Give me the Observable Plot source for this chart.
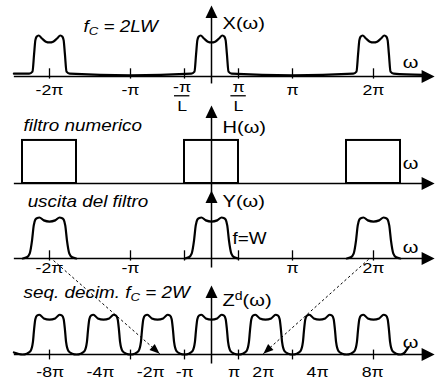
<!DOCTYPE html>
<html><head><meta charset="utf-8">
<script src="https://cdn.jsdelivr.net/npm/d3@7"></script>
<script src="https://cdn.jsdelivr.net/npm/@observablehq/plot@0.6"></script>
<style>
html,body{margin:0;padding:0;background:#fff;}
#chart{width:437px;height:379px;overflow:hidden;}
</style></head><body><div id="chart"></div>
<script>
// ---------------- data (ω in units of π, amplitude relative to lobe peak) ----------------
const L = 3;
const panels = ["X", "H", "Y", "Z"];

// X(ω): band-limited spectrum repeated every 2π
const xLobeCenters = [-2, 0, 2];
const xLobeDu  = [-0.25, -0.21, -0.19, -0.175, -0.16, -0.135, -0.09, -0.045, 0, 0.045, 0.09, 0.135, 0.16, 0.175, 0.19, 0.21, 0.25];
const xLobeAmp = [0.07, 0.12, 0.55, 0.88, 0.97, 1.0, 0.92, 0.85, 0.83, 0.85, 0.92, 1.0, 0.97, 0.88, 0.55, 0.12, 0.07];
const xFloorU   = [-2.44, -1, 1, 2.62];
const xFloorAmp = [0.07, 0.03, 0.03, 0.04];

// H(ω): ideal low-pass, cutoff π/L, repeated every 2π
const hCenters = [-2, 0, 2];
const hHalfWidth = 1 / L;
const hAmp = 1.05;

// Y(ω): filtered spectrum (smoother edges)
const yLobeCenters = [-2, 0, 2];
const yLobeDu  = [-0.33, -0.28, -0.245, -0.215, -0.195, -0.175, -0.15, -0.125, -0.07, 0, 0.07, 0.125, 0.15, 0.175, 0.195, 0.215, 0.245, 0.28, 0.33];
const yLobeAmp = [0.0, 0.03, 0.12, 0.45, 0.8, 0.95, 0.99, 1.0, 0.93, 0.9, 0.93, 1.0, 0.99, 0.95, 0.8, 0.45, 0.12, 0.03, 0.0];

// Z^d(ω): decimated sequence spectrum, lobes every 2π/L on the drawing
const zLobeCenters = [-2, -4/3, -2/3, 0, 2/3, 4/3, 2];
const zLobeDu  = [-0.333, -0.28, -0.235, -0.205, -0.19, -0.175, -0.155, -0.125, -0.07, 0, 0.07, 0.125, 0.155, 0.175, 0.19, 0.205, 0.235, 0.28];
const zLobeAmp = [0.0, 0.02, 0.08, 0.3, 0.62, 0.86, 0.95, 0.97, 0.88, 0.85, 0.88, 0.97, 0.95, 0.86, 0.62, 0.3, 0.08, 0.02];
const zStart = {u: -2.44, amp: 0.05};
const zEnd = [{u: 2.333, amp: 0.0}, {u: 2.38, amp: 0.04}, {u: 2.43, amp: 0.18}];

// ticks and tick labels
const tickVals = [-2, -1, -1 / L, 1 / L, 1, 2];
const xTickLabels = ["-2π", "-π", "", "", "π", "2π"];
const yTickLabels = ["-2π", "-π", "", "", "π", "2π"];
const fracNum = ["-π", "π"];
const fracDen = ["L", "L"];
const fracPos = [-1 / L, 1 / L];
const zLabelPos = [-1.99, -1.37, -0.75, -0.33, 0.28, 0.64, 1.31, 1.99];
const zLabels = ["-8π", "-4π", "-2π", "-π", "π", "2π", "4π", "8π"];

// texts
const titles = ["f_{C} = 2LW", "filtro numerico", "uscita del filtro", "seq. decim. f_{C} = 2W"];
const funcLabels = ["X(ω)", "H(ω)", "Y(ω)", "Z^{d}(ω)"];
const cutoffLabel = "f=W";

// ---------------- layout ----------------
const W = 437, HT = 379;
const PX_PI = 81, ORIGIN = 211, PX_AMP = 41;
const base = {X: 76, H: 183, Y: 258, Z: 354};
const off = p => (HT - base[p]) / PX_AMP;
const P = (p, u, a) => ({x: u, y: off(p) + a});
const TEXT_STRETCH = 1.18;

const titlePos = {X: [-1.58, 1.22], H: [-2.32, 1.41], Y: [-2.27, 1.37], Z: [-2.32, 1.51]};
const funcPos = {X: [0.136, 1.29], H: [0.136, 1.37], Y: [0.136, 1.39], Z: [0.136, 1.32]};
const omegaPos = {X: 0.34, H: 0.49, Y: 0.27, Z: 0.29};
const vAxis = {X: [-0.17, 1.73], H: [-0.22, 1.9], Y: [-0.22, 1.66], Z: [-0.22, 1.68]};

// ---------------- build rows ----------------
function lobeRows(p, centers, du, amp, g) {
  const r = [];
  centers.forEach((c, i) => du.forEach((d, j) => r.push({...P(p, c + d, amp[j]), g: g + i})));
  return r;
}
const xCurve = [];
{
  const pts = [];
  xFloorU.forEach((u, i) => pts.push([u, xFloorAmp[i]]));
  xLobeCenters.forEach(c => xLobeDu.forEach((d, j) => pts.push([c + d, xLobeAmp[j]])));
  pts.sort((a, b) => a[0] - b[0]);
  pts.forEach(([u, a]) => xCurve.push({...P("X", u, a), g: "X"}));
}
const yCurve = lobeRows("Y", yLobeCenters, yLobeDu, yLobeAmp, "Y");
const zCurve = [];
{
  const pts = [[zStart.u, zStart.amp]];
  zLobeCenters.forEach(c => zLobeDu.forEach((d, j) => pts.push([c + d, zLobeAmp[j]])));
  zEnd.forEach(e => pts.push([e.u, e.amp]));
  pts.sort((a, b) => a[0] - b[0]);
  pts.forEach(([u, a]) => zCurve.push({...P("Z", u, a), g: "Z"}));
}
const curves = [...xCurve, ...yCurve, ...zCurve];

const hRects = hCenters.map(c => ({x1: c - hHalfWidth, x2: c + hHalfWidth, y1: off("H"), y2: off("H") + hAmp}));

const xMin = -2.44, xLineEnd = 2.6, xTip = 2.755;
const hAxes = panels.map(p => ({x1: xMin, x2: xLineEnd, y: off(p), tip: xTip}));
const vAxes = panels.map(p => ({x: 0, y1: off(p) + vAxis[p][0], y2: off(p) + vAxis[p][1] - 0.15, tip: off(p) + vAxis[p][1]}));

const ticks = [];
["X", "Y"].forEach(p => tickVals.forEach(v => ticks.push({x: v, y1: off(p) - 0.05, y2: off(p) + 0.2})));
tickVals.forEach(v => ticks.push({x: v, y1: off("Z") - 0.12, y2: off("Z") + 0.12}));

const tickText = [];
tickVals.forEach((v, i) => { if (xTickLabels[i]) tickText.push({...P("X", v, -0.34), t: xTickLabels[i]}); });
tickVals.forEach((v, i) => { if (yTickLabels[i]) tickText.push({...P("Y", v, -0.24), t: yTickLabels[i]}); });
zLabelPos.forEach((v, i) => tickText.push({...P("Z", v, -0.43), t: zLabels[i]}));

const fracText = [];
const fracBars = [];
fracPos.forEach((v, i) => {
  const sh = i === 0 ? -0.03 : 0;
  fracText.push({...P("X", v + sh, -0.27), t: fracNum[i]});
  fracText.push({...P("X", v + sh, -0.72), t: fracDen[i]});
  fracBars.push({x1: v + sh - 0.1, x2: v + sh + 0.09, y: off("X") - 0.47});
});

const titleRows = panels.map((p, i) => ({...P(p, ...titlePos[p]), t: titles[i]}));
const funcRows = panels.map((p, i) => ({...P(p, ...funcPos[p]), t: funcLabels[i]}));
const omegaRows = panels.map(p => ({...P(p, 2.457, omegaPos[p]), t: "ω"}));
const cutoffRows = [{...P("Y", 0.26, 0.49), t: cutoffLabel}];

// dashed mapping arrows (Y panel -> Z panel)
const mapArrows = [
  {a: P("Y", -1.95, -0.05), b: P("Z", -0.64, 0.02)},
  {a: P("Y", 1.94, -0.02), b: P("Z", 0.64, 0.02)}
];

// ---------------- symbols ----------------
const triRight = {draw(ctx) { ctx.moveTo(0, 0); ctx.lineTo(-13, -6.5); ctx.lineTo(-13, 6.5); ctx.closePath(); }};
const triUp = {draw(ctx) { ctx.moveTo(0, 0); ctx.lineTo(-6, 12.5); ctx.lineTo(6, 12.5); ctx.closePath(); }};
function headSymbol(arr) {
  const dx = (arr.b.x - arr.a.x) * PX_PI, dy = -(arr.b.y - arr.a.y) * PX_AMP;
  const n = Math.hypot(dx, dy), ux = dx / n, uy = dy / n;
  const len = 10, hw = 4;
  return {draw(ctx) {
    ctx.moveTo(0, 0);
    ctx.lineTo(-ux * len - uy * hw, -uy * len + ux * hw);
    ctx.lineTo(-ux * len + uy * hw, -uy * len - ux * hw);
    ctx.closePath();
  }};
}

const FONT = "'Liberation Sans', Arial, Helvetica, sans-serif";

const marks = [
  Plot.link(hAxes, {x1: "x1", x2: "x2", y1: "y", y2: "y", stroke: "black", strokeWidth: 1.5}),
  Plot.dot(hAxes, {x: "tip", y: "y", symbol: triRight, r: 6, fill: "black", stroke: "none"}),
  Plot.link(vAxes, {x1: "x", x2: "x", y1: "y1", y2: "y2", stroke: "black", strokeWidth: 1.5}),
  Plot.dot(vAxes, {x: "x", y: "tip", symbol: triUp, r: 6, fill: "black", stroke: "none"}),
  Plot.link(ticks, {x1: "x", x2: "x", y1: "y1", y2: "y2", stroke: "black", strokeWidth: 1.3}),
  Plot.link(fracBars, {x1: "x1", x2: "x2", y1: "y", y2: "y", stroke: "black", strokeWidth: 1.3}),
  Plot.rect(hRects, {x1: "x1", x2: "x2", y1: "y1", y2: "y2", stroke: "black", fill: "none", strokeWidth: 2}),
  Plot.line(curves, {x: "x", y: "y", z: "g", curve: "monotone-x", stroke: "black", strokeWidth: 2.2, strokeLinejoin: "round"}),
  Plot.link(mapArrows, {x1: d => d.a.x, y1: d => d.a.y, x2: d => d.b.x, y2: d => d.b.y, stroke: "black", strokeWidth: 1, strokeDasharray: "2.5,2.5"}),
  ...mapArrows.map(m => Plot.dot([m], {x: d => d.b.x, y: d => d.b.y, symbol: headSymbol(m), r: 5, fill: "black", stroke: "none"})),
  Plot.text(tickText, {x: "x", y: "y", text: "t", fontSize: 15, fontFamily: FONT, fill: "black"}),
  Plot.text(fracText, {x: "x", y: "y", text: "t", fontSize: 15, fontFamily: FONT, fill: "black"}),
  Plot.text(titleRows, {x: "x", y: "y", text: "t", textAnchor: "start", fontSize: 16, fontStyle: "italic", fontFamily: FONT, fill: "black"}),
  Plot.text(funcRows, {x: "x", y: "y", text: "t", textAnchor: "start", fontSize: 17, fontFamily: FONT, fill: "black"}),
  Plot.text(omegaRows, {x: "x", y: "y", text: "t", fontSize: 17, fontFamily: FONT, fill: "black"}),
  Plot.text(cutoffRows, {x: "x", y: "y", text: "t", textAnchor: "start", fontSize: 16, fontFamily: FONT, fill: "black"})
];

const chart = Plot.plot({
  width: W, height: HT, margin: 0,
  x: {domain: [-ORIGIN / PX_PI, (W - ORIGIN) / PX_PI], axis: null},
  y: {domain: [0, HT / PX_AMP], axis: null},
  style: {background: "white", overflow: "visible"},
  marks
});

// sub/superscript markup (_{..}, ^{..}) and the reference's slightly wide lettering
d3.select(chart).selectAll("text").each(function () {
  const el = d3.select(this);
  const tr = el.attr("transform");
  if (tr) el.attr("transform", tr + ` scale(${TEXT_STRETCH},1)`);
  const s = this.textContent;
  if (!/[_^]\{/.test(s)) return;
  el.text(null);
  const re = /([_^])\{([^}]*)\}/g;
  let last = 0, m, shift = 0;
  const add = (txt, dy, size) => {
    const t = el.append("tspan").text(txt);
    if (dy) t.attr("dy", dy + "em");
    if (size) t.attr("font-size", size);
  };
  while ((m = re.exec(s))) {
    if (m.index > last) add(s.slice(last, m.index), shift ? -shift : 0);
    shift = 0;
    const d = m[1] === "_" ? 0.3 : -0.45;
    add(m[2], d, "70%");
    shift = d * 0.7;
    last = re.lastIndex;
  }
  if (last < s.length) add(s.slice(last), shift ? -shift : 0);
});

document.getElementById("chart").appendChild(chart);
</script>
</body></html>
